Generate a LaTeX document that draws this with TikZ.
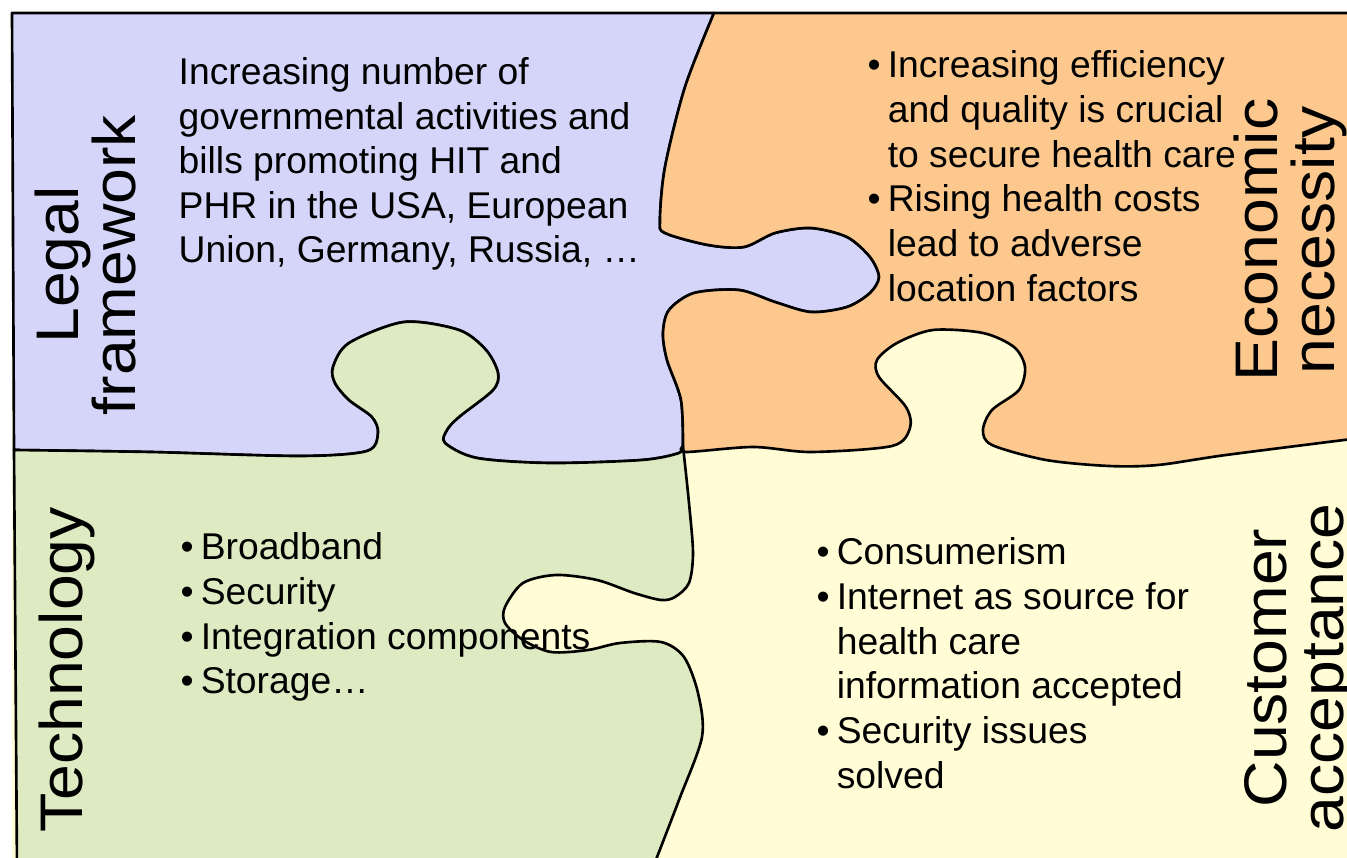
\documentclass[tikz,border=0pt]{standalone}
\usepackage{fontspec}
\setmainfont{Liberation Sans}
\newfontfamily\labelfont[FakeStretch=1.07]{Liberation Sans}
\usepackage{tikz}

\definecolor{legalblue}{RGB}{213,213,250}
\definecolor{econorange}{RGB}{252,200,142}
\definecolor{techgreen}{RGB}{222,235,194}
\definecolor{custyellow}{RGB}{255,252,214}

% shared edges of the puzzle pieces
\newcommand{\edgeLegalEcon}{-- plot[smooth] coordinates {(714,13) (685,87) (665,167) (660,220) (665,233) (708,245) (744,247) (775,233) (811,228) (847,237) (870,257) (879,277) (870,293) (847,307) (811,312) (775,302) (739,290) (694,293) (669,310) (663,333) (667,360) (681,400) (683,446)}}
\newcommand{\edgeLegalTech}{-- plot[smooth] coordinates {(683,446) (679,453) (642,460) (550,463) (477,458) (445,443) (447,430) (459,417) (493,390) (498,373) (486,350) (459,330) (404,322) (349,343) (333,367) (335,383) (349,400) (372,417) (378,433) (367,451) (300,456) (150,452) (14,450)}}
\newcommand{\edgeEconCust}{-- plot[smooth] coordinates {(683,446) (686,452) (753,447) (811,452) (892,446) (910,428) (906,407) (879,377) (877,360) (897,343) (933,330) (983,333) (1014,347) (1025,367) (1019,390) (992,410) (983,430) (992,445) (1046,460) (1109,466) (1158,465) (1226,455) (1360,438)}}
\newcommand{\edgeTechCust}{-- plot[smooth] coordinates {(652,870) (679,800) (702,737) (698,693) (684,657) (661,642) (620,643) (588,650) (551,652) (523,640) (505,623) (505,607) (523,583) (556,575) (597,580) (634,593) (661,600) (675,597) (689,583) (693,553) (689,503) (683,446)}}

\tikzset{
	piece/.style={draw=black, line width=0.75pt, line join=round},
	sidelabel/.style={font=\labelfont\fontsize{17.1}{16.2}\selectfont, rotate=90, align=center, inner sep=0pt, anchor=base},
	bodytext/.style={font=\fontsize{10.6}{12.7}\selectfont, align=left, inner sep=0pt, anchor=base west},
	listtext/.style={font=\fontsize{10.6}{12.7}\selectfont, inner sep=0pt, anchor=base west}
}

\begin{document}
\begin{tikzpicture}[x=0.01cm, y=-0.01cm]
		\useasboundingbox (0,0) rectangle (1347,858);
		\clip (0,0) rectangle (1347,858);

		% Customer acceptance (background piece)
		\fill[custyellow] (12,13) rectangle (1360,870);

		% Legal framework
		\filldraw[piece, fill=legalblue] (12,13) -- (714,13) \edgeLegalEcon \edgeLegalTech -- cycle;

		% Economic necessity
		\filldraw[piece, fill=econorange] (714,13) \edgeLegalEcon \edgeEconCust -- (1360,13) -- cycle;

		% Technology
		\filldraw[piece, fill=techgreen] (17,870) -- (652,870) \edgeTechCust \edgeLegalTech -- cycle;

		% Labels (base = last line)
		\node[sidelabel] (legal) at (135,265) {Legal\\framework};
		\node[sidelabel] (tech) at (82,670) {Technology};
		\node[sidelabel] (econ) at (1334,240) {Economic\\necessity};
		\node[sidelabel] (cust) at (1343,668) {Customer\\acceptance};

		% Texts
		\node[bodytext] (legaltext) at (178,263) {Increasing number of\\governmental activities and\\bills promoting HIT and\\PHR in the USA, European\\Union, Germany, Russia, …};
		\node[listtext] (econtext) at (867,78) {\begin{tabular}[t]{@{}l@{\hspace{2pt}}l@{}}
			\textbullet & Increasing efficiency\\
			& and quality is crucial\\
			& to secure health care\\
			\textbullet & Rising health costs\\
			& lead to adverse\\
			& location factors
		\end{tabular}};
		\node[listtext] (techtext) at (180,560) {\begin{tabular}[t]{@{}l@{\hspace{2pt}}l@{}}
			\textbullet & Broadband\\
			\textbullet & Security\\
			\textbullet & Integration components\\
			\textbullet & Storage…
		\end{tabular}};
		\node[listtext] (custtext) at (816,565) {\begin{tabular}[t]{@{}l@{\hspace{2pt}}l@{}}
			\textbullet & Consumerism\\
			\textbullet & Internet as source for\\
			& health care\\
			& information accepted\\
			\textbullet & Security issues\\
			& solved
		\end{tabular}};
	\end{tikzpicture}
\end{document}
